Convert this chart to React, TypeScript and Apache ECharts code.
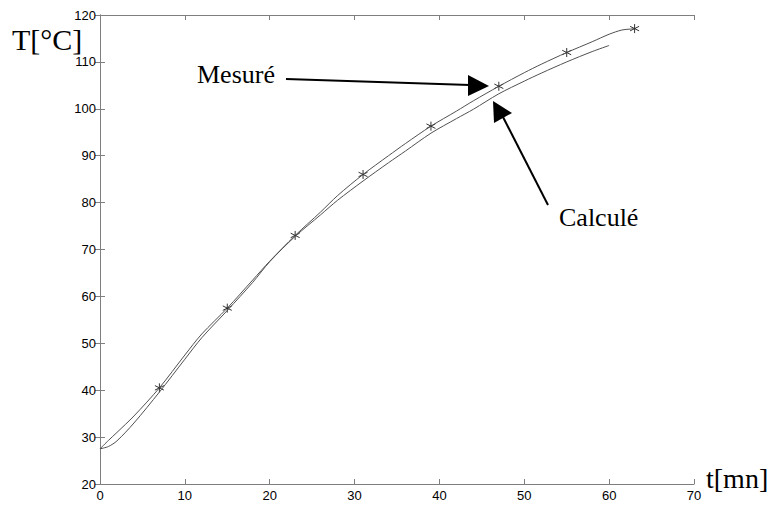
import React, { useEffect, useRef } from "react";
import * as echarts from "echarts";

const measuredT = [0, 1, 2, 4, 7, 10, 12, 15, 18, 20, 23, 26, 28, 31, 34, 36, 39, 42, 44, 47, 50, 52, 55, 58, 60, 61.5, 62.5, 63];
const measuredV = [27.5, 29.3, 31, 34.5, 40.5, 47.5, 52, 57.5, 63.5, 67.5, 73, 78, 81.5, 86, 90, 92.6, 96.3, 99.5, 101.7, 104.8, 107.7, 109.5, 112, 114.3, 115.9, 116.8, 117, 117.1];
const calcT = [0, 1, 2, 4, 7, 10, 12, 15, 18, 20, 23, 26, 28, 31, 34, 36, 39, 42, 44, 47, 50, 52, 55, 58, 60];
const calcV = [27.5, 28, 29.2, 33, 39.6, 46.6, 51.2, 57, 63, 67.4, 72.8, 77.4, 80.5, 84.6, 88.5, 91, 94.8, 97.9, 99.9, 103.2, 105.9, 107.6, 110, 112.2, 113.5];
const starT = [7, 15, 23, 31, 39, 47, 55, 63];
const starV = [40.5, 57.5, 73, 86, 96.3, 104.8, 112, 117.1];
const xTicks = { min: 0, max: 70, interval: 10 };
const yTicks = { min: 20, max: 120, interval: 10 };

const axisColor = "#7f7f7f";
const starPath = "path://M5,0L5,10M0.7,2.5L9.3,7.5M0.7,7.5L9.3,2.5";
const serif = "'Liberation Serif', 'Times New Roman', serif";

export default function App() {
  const ref = useRef<HTMLDivElement>(null);
  useEffect(() => {
    const chart = echarts.init(ref.current!, null, { renderer: "svg" });
    const baseX = {
      type: "value" as const,
      ...xTicks,
      splitLine: { show: false },
      axisLine: { show: true, lineStyle: { color: axisColor, width: 1 } },
      axisTick: { show: true, inside: true, length: 5, lineStyle: { color: axisColor } },
    };
    const baseY = {
      type: "value" as const,
      ...yTicks,
      splitLine: { show: false },
      axisLine: { show: true, lineStyle: { color: axisColor, width: 1 } },
      axisTick: { show: true, inside: true, length: 5, lineStyle: { color: axisColor } },
    };
    chart.setOption({
      animation: false,
      backgroundColor: "#ffffff",
      grid: { left: 100, right: 77, top: 15, bottom: 22, containLabel: false },
      xAxis: [
        {
          ...baseX,
          position: "bottom",
          axisLabel: { color: "#000", fontFamily: "Liberation Sans, Arial, sans-serif", fontSize: 13, margin: 5 },
        },
        { ...baseX, position: "top", axisLabel: { show: false } },
      ],
      yAxis: [
        {
          ...baseY,
          position: "left",
          axisLabel: { color: "#000", fontFamily: "Liberation Sans, Arial, sans-serif", fontSize: 13, margin: 4 },
        },
        { ...baseY, position: "right", axisLabel: { show: false } },
      ],
      series: [
        {
          type: "line",
          data: measuredT.map((t, i) => [t, measuredV[i]]),
          smooth: 0.3,
          showSymbol: false,
          lineStyle: { color: "#505050", width: 1 },
        },
        {
          type: "line",
          data: calcT.map((t, i) => [t, calcV[i]]),
          smooth: 0.3,
          showSymbol: false,
          lineStyle: { color: "#505050", width: 1 },
        },
        {
          type: "scatter",
          data: starT.map((t, i) => [t, starV[i]]),
          symbol: starPath,
          symbolSize: 9,
          itemStyle: { color: "none", borderColor: "#000", borderWidth: 1 },
        },
      ],
      graphic: [
        {
          type: "text",
          left: 12,
          top: 24,
          style: { text: "T[°C]", font: `30px ${serif}`, fill: "#000" },
        },
        {
          type: "text",
          left: 706,
          top: 464,
          style: { text: "t[mn]", font: `28px ${serif}`, fill: "#000" },
        },
        {
          type: "text",
          left: 197,
          top: 61,
          style: { text: "Mesuré", font: `26px ${serif}`, fill: "#000" },
        },
        {
          type: "text",
          left: 559,
          top: 204,
          style: { text: "Calculé", font: `26px ${serif}`, fill: "#000" },
        },
        {
          type: "line",
          shape: { x1: 286, y1: 79, x2: 470, y2: 85 },
          style: { stroke: "#000", lineWidth: 2 },
        },
        {
          type: "polygon",
          shape: { points: [[468, 75], [489, 86], [468, 96]] },
          style: { fill: "#000" },
        },
        {
          type: "line",
          shape: { x1: 548, y1: 205, x2: 503, y2: 117 },
          style: { stroke: "#000", lineWidth: 2 },
        },
        {
          type: "polygon",
          shape: { points: [[493, 101], [512, 113], [494, 123]] },
          style: { fill: "#000" },
        },
      ],
    });
    return () => chart.dispose();
  }, []);
  return (
    <div
      ref={ref}
      style={{ position: "fixed", left: 0, top: 0, width: 771, height: 506, background: "#fff" }}
    />
  );
}
